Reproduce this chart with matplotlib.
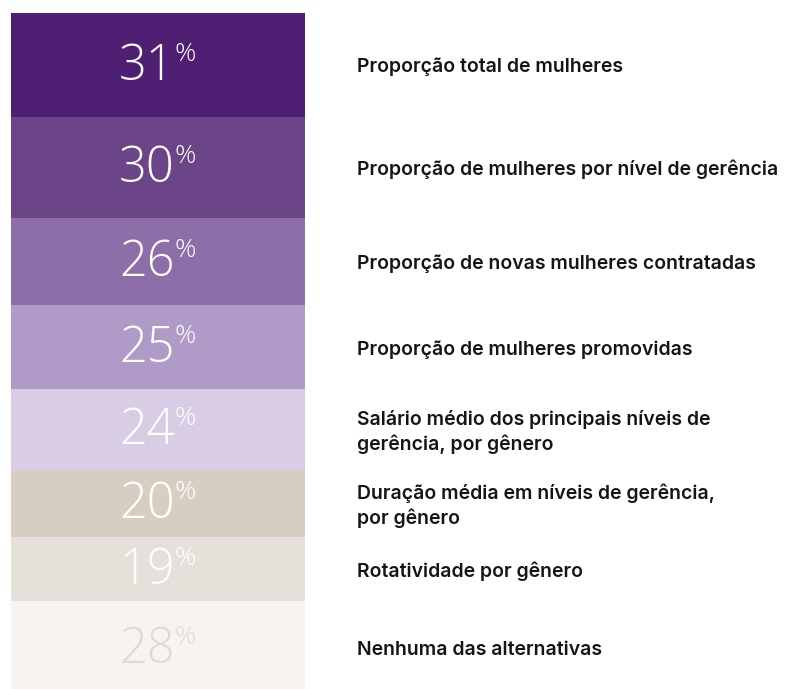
import numpy as np
import matplotlib.pyplot as plt

values = [31, 30, 26, 25, 24, 20, 19, 28]
labels = [
    "Proporção total de mulheres",
    "Proporção de mulheres por nível de gerência",
    "Proporção de novas mulheres contratadas",
    "Proporção de mulheres promovidas",
    "Salário médio dos principais níveis de\ngerência, por gênero",
    "Duração média em níveis de gerência,\npor gênero",
    "Rotatividade por gênero",
    "Nenhuma das alternativas",
]
colors = ["#4f1f74", "#6c4589", "#8d6ea8", "#b09bc8",
          "#d8cde4", "#d8cdc1", "#e6e0da", "#f7f3f0"]
num_colors = ["white"] * 7 + ["#dcdad8"]

W, H = 794, 689
fig = plt.figure(figsize=(W / 100, H / 100), dpi=100)
top_px = 13
ax = fig.add_axes([0, 0, 1, 1 - top_px / H])
ax.set_xlim(0, W)
ax.set_ylim((H - top_px) / 3.36, 0)
ax.axis("off")

bottoms = np.concatenate([[0], np.cumsum(values)[:-1]])
bar_left, bar_w = 11, 294
ax.bar(bar_left, values, width=bar_w, bottom=bottoms, align="edge",
       color=colors, linewidth=0)

num_font = dict(family="Open Sans", fontweight="light")
for v, b, c, lab in zip(values, bottoms, num_colors, labels):
    yc = b + v / 2
    t = ax.text(bar_left + bar_w / 2 - 11, yc + 0.5, str(v), ha="center", va="center",
                fontsize=35, color=c, **num_font)
    ax.annotate("%", xy=(1, 1.0), xycoords=t, xytext=(0, 0), textcoords="offset points",
                ha="left", va="top", fontsize=19, color=c, **num_font)
    ax.text(357, yc + 0.6, lab, ha="left", va="center", fontsize=14,
            family="Inter", fontweight="semibold", color="#151515", linespacing=1.35)

fig.savefig("out.png", dpi=100)
